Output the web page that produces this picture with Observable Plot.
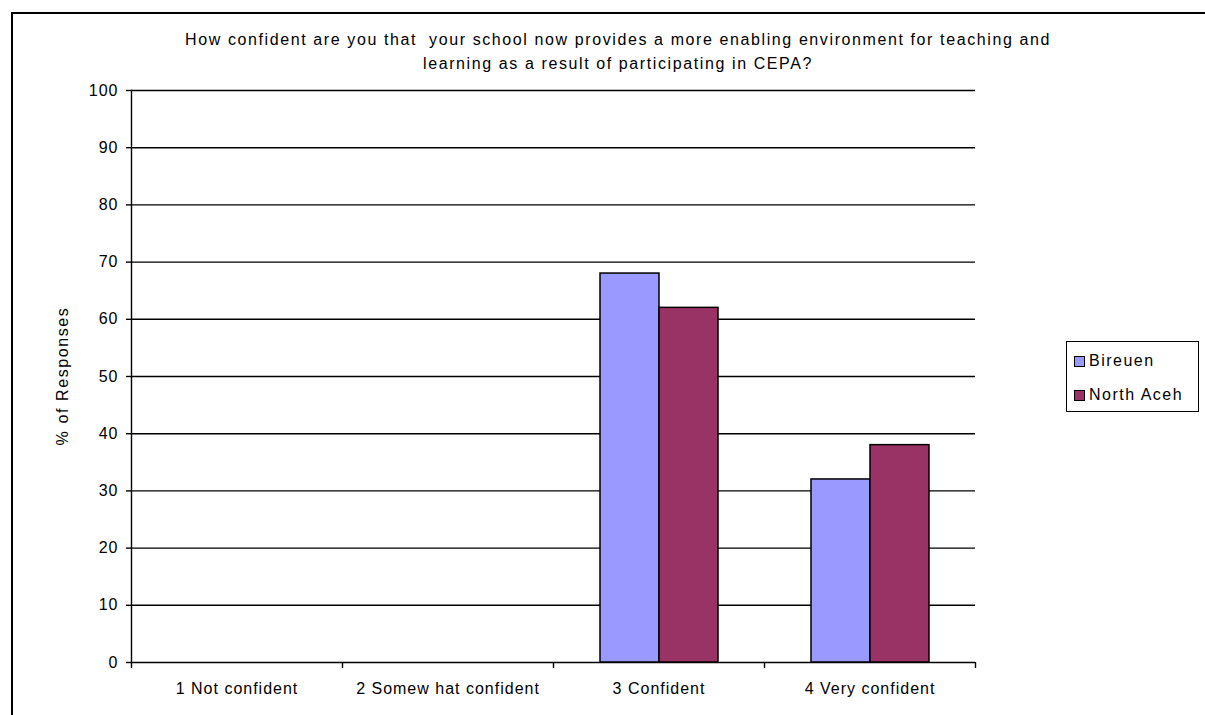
<!DOCTYPE html>
<html>
<head>
<meta charset="utf-8">
<script src="https://cdn.jsdelivr.net/npm/d3@7"></script>
<script src="https://cdn.jsdelivr.net/npm/@observablehq/plot@0.6"></script>
<style>
  html, body { margin: 0; padding: 0; background: #fff; }
  body { width: 1205px; height: 715px; position: relative; overflow: hidden; font-family: "Liberation Sans", Arial, sans-serif; }
  #frame { position: absolute; left: 11px; top: 12px; width: 1300px; height: 800px; border-top: 2px solid #000; border-left: 2px solid #000; box-sizing: border-box; }
  #chart { position: absolute; left: 0; top: 0; }
  #title { position: absolute; left: 618px; top: 28px; transform: translateX(-50%); white-space: nowrap; text-align: center; font-size: 16px; letter-spacing: 1.6px; line-height: 24px; color: #000; }
  #ylabel { position: absolute; left: 63px; top: 376px; transform: translate(-50%, -50%) rotate(-90deg); white-space: nowrap; font-size: 16px; letter-spacing: 1.6px; color: #000; }
  #legend { position: absolute; left: 1066px; top: 341px; width: 133px; height: 71px; border: 1px solid #000; box-sizing: border-box; }
  .item { position: absolute; left: 7px; height: 20px; display: flex; align-items: center; font-size: 16px; letter-spacing: 1.5px; white-space: nowrap; }
  .sw { width: 11px; height: 11px; border: 1px solid #000; margin-right: 4px; box-sizing: border-box; }
</style>
</head>
<body>
<div id="frame"></div>
<div id="chart"></div>
<div id="title"></div>
<div id="ylabel"></div>
<div id="legend"></div>
<script>
const titleLines = ["How confident are you that  your school now provides a more enabling environment for teaching and", "learning as a result of participating in CEPA?"];
const yLabel = "% of Responses";
const categories = ["1 Not confident", "2 Somew hat confident", "3 Confident", "4 Very confident"];
const seriesNames = ["Bireuen", "North Aceh"];
const seriesColors = ["#9999FF", "#993366"];
const bireuen = [0, 0, 68, 32];
const northAceh = [0, 0, 62, 38];
const yTicks = [0, 10, 20, 30, 40, 50, 60, 70, 80, 90, 100];

const seriesValues = [bireuen, northAceh];
const data = categories.flatMap((c, i) => seriesNames.map((s, j) => ({category: c, series: s, value: seriesValues[j][i]})));

const W = 1205, H = 715, mL = 131, mR = 230, mT = 90, mB = 53;
const bw = (W - mL - mR) / categories.length;

const chart = Plot.plot({
  width: W, height: H,
  marginLeft: mL, marginRight: mR, marginTop: mT, marginBottom: mB,
  style: {fontFamily: "Liberation Sans, Arial, sans-serif", fontSize: "16px", letterSpacing: "1px", color: "#000", background: "transparent"},
  fx: {domain: categories, padding: 0, label: null},
  x: {domain: seriesNames, paddingInner: 0, paddingOuter: 0.76, axis: null},
  y: {domain: [0, 100], label: null},
  color: {domain: seriesNames, range: seriesColors},
  marks: [
    Plot.gridY(yTicks, {stroke: "#000", strokeOpacity: 1, strokeWidth: 1.4}),
    Plot.barY(data, {fx: "category", x: "series", y: "value", fill: "series", stroke: "#000", strokeWidth: 1.5}),
    Plot.frame({anchor: "left", facet: "super", stroke: "#000", strokeWidth: 1.4}),
    Plot.axisY(yTicks, {tickSize: 5, tickPadding: 8, label: null, stroke: "#000", strokeWidth: 1.4}),
    Plot.axisFx({anchor: "bottom", tickSize: 6, text: null, dx: -bw / 2, label: null, stroke: "#000", strokeWidth: 1.4}),
    Plot.axisFx({anchor: "bottom", ticks: [categories[categories.length - 1]], tickSize: 6, text: null, dx: bw / 2, label: null, stroke: "#000", strokeWidth: 1.4}),
    Plot.axisFx({anchor: "bottom", tickSize: 0, tickPadding: 20, label: null, letterSpacing: "1.6px"})
  ]
});
document.getElementById("chart").appendChild(chart);

document.getElementById("title").innerHTML = titleLines.map(t => t.replace(/  /g, " &nbsp;")).join("<br>");
document.getElementById("ylabel").textContent = yLabel;
const legend = document.getElementById("legend");
seriesNames.forEach((s, i) => {
  const it = document.createElement("div");
  it.className = "item";
  it.style.top = (9 + i * 34) + "px";
  const sw = document.createElement("div");
  sw.className = "sw";
  sw.style.background = seriesColors[i];
  const tx = document.createElement("span");
  tx.textContent = s;
  it.appendChild(sw); it.appendChild(tx);
  legend.appendChild(it);
});
</script>
</body>
</html>
